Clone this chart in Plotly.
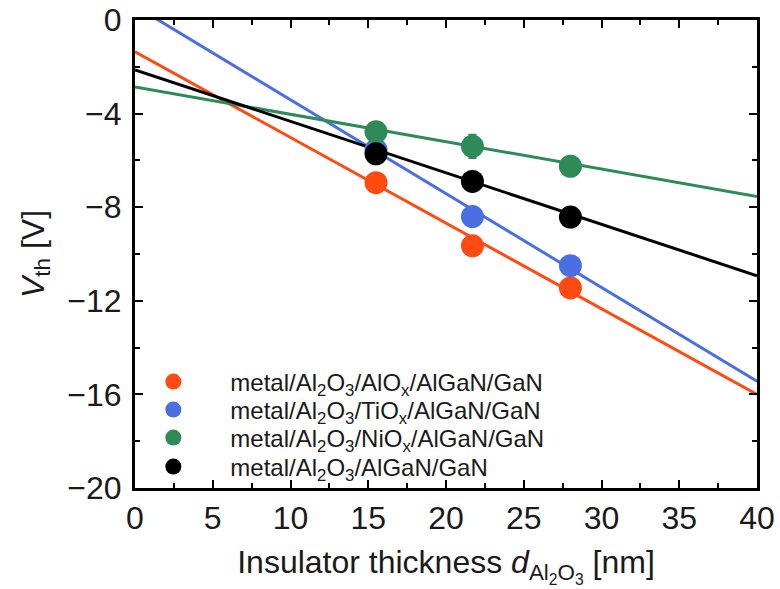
import plotly.graph_objects as go

thickness = [15.5, 21.7, 28.0]
series_names = [
    "metal/Al<sub>2</sub>O<sub>3</sub>/AlO<sub>x</sub>/AlGaN/GaN",
    "metal/Al<sub>2</sub>O<sub>3</sub>/TiO<sub>x</sub>/AlGaN/GaN",
    "metal/Al<sub>2</sub>O<sub>3</sub>/NiO<sub>x</sub>/AlGaN/GaN",
    "metal/Al<sub>2</sub>O<sub>3</sub>/AlGaN/GaN",
]
vth_alox = [-6.95, -9.65, -11.45]
vth_tiox = [-5.55, -8.40, -10.50]
vth_niox = [-4.78, -5.40, -6.25]
vth_plain = [-5.72, -6.90, -8.42]
err_alox = [0.2, 0.2, 0.2]
err_tiox = [0.2, 0.2, 0.2]
err_niox = [0.2, 0.5, 0.2]
err_plain = [0.2, 0.2, 0.2]
fit_intercept = [-1.36, 0.60, -2.86, -2.13]
fit_slope = [-0.366, -0.401, -0.117, -0.220]
fit_x = [0, 40]
colors = ["#FF4A12", "#4A6FE3", "#2E8B57", "#000000"]
legend_ids = ["legend", "legend2", "legend3", "legend4"]
legend_rows_y = [0.2265, 0.1667, 0.1068, 0.0449]

values = [vth_alox, vth_tiox, vth_niox, vth_plain]
errors = [err_alox, err_tiox, err_niox, err_plain]

fig = go.Figure()
for i in range(4):
    fy = [fit_intercept[i] + fit_slope[i] * x for x in fit_x]
    fig.add_trace(go.Scatter(x=fit_x, y=fy, mode="lines",
                             line=dict(color=colors[i], width=3),
                             showlegend=False, hoverinfo="skip"))
for i in range(4):
    fig.add_trace(go.Scatter(
        x=thickness, y=values[i], mode="markers", name=series_names[i],
        marker=dict(color=colors[i], size=23),
        error_y=dict(type="data", array=errors[i], color=colors[i], thickness=2, width=4),
        legend=legend_ids[i],
    ))

axis_common = dict(
    showline=True, linecolor="black", linewidth=3, mirror="allticks",
    ticks="inside", ticklen=8, tickwidth=2, tickcolor="black",
    showgrid=False, zeroline=False, ticklabeloverflow="allow",
    tickfont=dict(size=32, color="#1a1a1a"),
)
fig.update_xaxes(range=[0, 40], dtick=5, tick0=0,
                 minor=dict(dtick=2.5, ticks="inside", ticklen=5, tickwidth=2, tickcolor="black"),
                 title=dict(text="Insulator thickness <i>d</i><sub>Al<sub>2</sub>O<sub>3</sub></sub> [nm]",
                            font=dict(size=32, color="#1a1a1a"), standoff=16),
                 **axis_common)
fig.update_yaxes(range=[-20, 0], dtick=4, tick0=0,
                 minor=dict(dtick=2, ticks="inside", ticklen=5, tickwidth=2, tickcolor="black"),
                 title=dict(text="<i>V</i><sub>th</sub> [V]", font=dict(size=32, color="#1a1a1a"), standoff=14),
                 ticklabelstandoff=4,
                 **axis_common)

legend_common = dict(x=-0.03, xanchor="left", yanchor="middle",
                     bgcolor="rgba(255,255,255,0)", font=dict(size=24),
                     itemsizing="trace", itemwidth=104)
layout_legends = {}
for lid, ly in zip(legend_ids, legend_rows_y):
    layout_legends[lid] = dict(y=ly, **legend_common)

fig.update_layout(
    width=780, height=589,
    margin=dict(l=135, r=23, t=20, b=101, autoexpand=False),
    paper_bgcolor="white", plot_bgcolor="white",
    font=dict(family="Liberation Sans, Arial, sans-serif", color="#1a1a1a"),
    showlegend=True,
    **layout_legends,
)
fig.write_html("out.html", config={"displayModeBar": False},
               post_script="document.body.style.margin='0';")
